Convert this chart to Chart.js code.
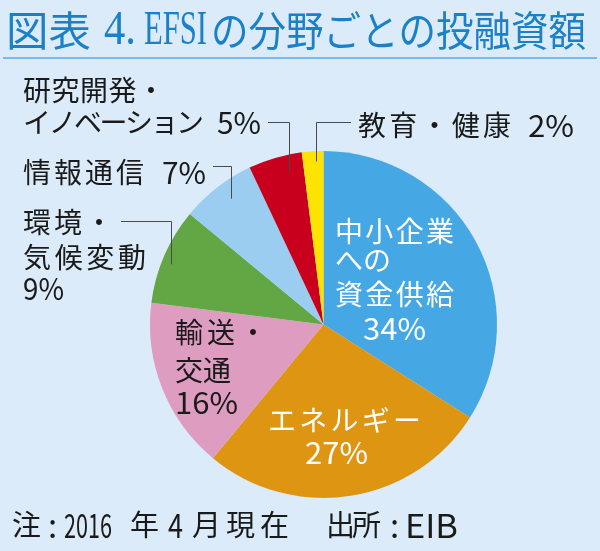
<!DOCTYPE html>
<html lang="ja">
<head>
<meta charset="utf-8">
<script src="https://cdn.jsdelivr.net/npm/chart.js@4.4.1/dist/chart.umd.min.js"></script>
<style>
  html, body { margin: 0; padding: 0; background: #dbebf9; }
  #pie { display: block; }
</style>
</head>
<body>
<canvas id="pie" width="600" height="551"></canvas>
<script>
// data, clockwise from 12 o'clock
const categories = ['中小企業への資金供給', 'エネルギー', '輸送・交通', '環境・気候変動', '情報通信', '研究開発・イノベーション', '教育・健康'];
const shares = [34, 27, 16, 9, 7, 5, 2];
const sliceColors = ['#45a7e4', '#de9511', '#de9cc1', '#63a745', '#9bcdf1', '#c8001e', '#fde300'];

// title pieces: [text, left, right]
const titleParts = [['図表', 6, 91], ['4.', 104, 136], ['EFSI', 144, 207], ['の分野ごとの投融資額', 211, 586]];
const noteText = [['注', 12], [':', 48], ['2016', 64, 112], ['年', 130], ['4', 168, 183], ['月現在', 192, 289], ['出所', 326, 381], [':', 390], ['EIB', 405, 458]];

// label blocks: [text, left, right, centerY]; '%v' is replaced by the share
const labelLines = {
  0: { color: '#ffffff', lines: [['中小企業', 335, 454, 231], ['への', 335, 391, 260], ['資金供給', 335, 454, 294], ['%v', 363, 426, 328]] },
  1: { color: '#ffffff', lines: [['エネルギー', 268, 421, 420], ['%v', 305, 368, 452]] },
  2: { color: '#1a1a1a', lines: [['輸送・', 175, 267, 332], ['交通', 175, 231, 370], ['%v', 175, 238, 402]] },
  3: { color: '#1a1a1a', lines: [['環境・', 23, 113, 222], ['気候変動', 23, 146, 257], ['%v', 23, 64, 288]] },
  4: { color: '#1a1a1a', lines: [['情報通信', 23, 144, 172], ['%v', 162, 206, 172]] },
  5: { color: '#1a1a1a', lines: [['研究開発・', 23, 165, 90], ['イノベーション', 23, 204, 122], ['%v', 217, 261, 122]] },
  6: { color: '#1a1a1a', lines: [['教育・健康', 358, 511, 125], ['%v', 528, 574, 125]] }
};
// leader lines: horizontal at y from x0 to elbow, then down into the slice (rr = radius ratio)
const leaders = {
  3: { y: 221, x0: 121, elbow: 171, rr: 0.945 },
  4: { y: 166, x0: 213, elbow: 231, rr: 0.9 },
  5: { y: 122, x0: 268, elbow: 289, rr: 0.9 },
  6: { y: 122, x0: 351, elbow: 316, rr: 0.94 }
};

const JP = '"Noto Sans CJK JP", "Noto Sans", sans-serif';
const isLatin = t => /^[\x00-\x7f]+$/.test(t);

function drawSeg(ctx, text, left, right, y, size) {
  ctx.save();
  ctx.font = size + 'px ' + JP;
  ctx.letterSpacing = '0px';
  const w = ctx.measureText(text).width;
  ctx.translate(left, y);
  if (right != null) {
    const target = right - left;
    if (isLatin(text)) {
      ctx.scale(target / w, 1);
    } else if (text.length > 1) {
      ctx.letterSpacing = ((target - w) / (text.length - 1)) + 'px';
    }
  }
  ctx.fillText(text, 0, 0);
  ctx.restore();
}

function drawScaled(ctx, text, left, right, y, font) {
  ctx.save();
  ctx.font = font;
  ctx.letterSpacing = '0px';
  const w = ctx.measureText(text).width;
  ctx.translate(left, y);
  ctx.scale((right - left) / w, 1);
  ctx.fillText(text, 0, 0);
  ctx.restore();
}

const decorations = {
  id: 'decorations',
  afterDraw(chart) {
    const ctx = chart.ctx;
    const meta = chart.getDatasetMeta(0);
    ctx.save();
    ctx.textBaseline = 'middle';
    ctx.textAlign = 'left';

    // title
    ctx.fillStyle = '#1a80c8';
    titleParts.forEach(([t, l, r]) => {
      if (isLatin(t)) {
        drawScaled(ctx, t, l, r, 31, '48px "Liberation Serif", "DejaVu Serif", serif');
      } else {
        drawScaled(ctx, t, l, r, 30, '41px ' + JP);
      }
    });

    ctx.strokeStyle = '#72bcef';
    ctx.lineWidth = 2;
    ctx.beginPath();
    ctx.moveTo(3, 58);
    ctx.lineTo(597, 58);
    ctx.stroke();

    // leader lines
    ctx.strokeStyle = '#4a4a4a';
    ctx.lineWidth = 1;
    Object.keys(leaders).forEach(k => {
      const ld = leaders[k];
      const arc = meta.data[k];
      const p = arc.getProps(['x', 'y', 'outerRadius'], true);
      const r = p.outerRadius * ld.rr;
      const dx = ld.elbow - p.x;
      const endY = p.y - Math.sqrt(Math.max(r * r - dx * dx, 0));
      ctx.beginPath();
      ctx.moveTo(ld.x0, ld.y + 0.5);
      ctx.lineTo(ld.elbow + 0.5, ld.y + 0.5);
      ctx.lineTo(ld.elbow + 0.5, endY);
      ctx.stroke();
    });

    // slice labels
    Object.keys(labelLines).forEach(k => {
      const block = labelLines[k];
      ctx.fillStyle = block.color;
      block.lines.forEach(([t, l, r, y]) => {
        if (t === '%v') {
          drawSeg(ctx, shares[k] + '%', l, r, y + 1, 30);
        } else {
          drawSeg(ctx, t, l, r, y, 28);
        }
      });
    });

    // footnote
    ctx.fillStyle = '#1a1a1a';
    noteText.forEach(([t, l, r]) => {
      drawSeg(ctx, t, l, r, 525, isLatin(t) ? 33 : 29);
    });

    ctx.restore();
  }
};

new Chart(document.getElementById('pie').getContext('2d'), {
  type: 'pie',
  data: {
    labels: categories,
    datasets: [{
      data: shares,
      backgroundColor: sliceColors,
      borderWidth: 0
    }]
  },
  options: {
    responsive: false,
    animation: false,
    layout: { padding: { left: 150, right: 103, top: 151, bottom: 53 } },
    plugins: {
      legend: { display: false },
      tooltip: { enabled: false }
    }
  },
  plugins: [decorations]
});
</script>
</body>
</html>
